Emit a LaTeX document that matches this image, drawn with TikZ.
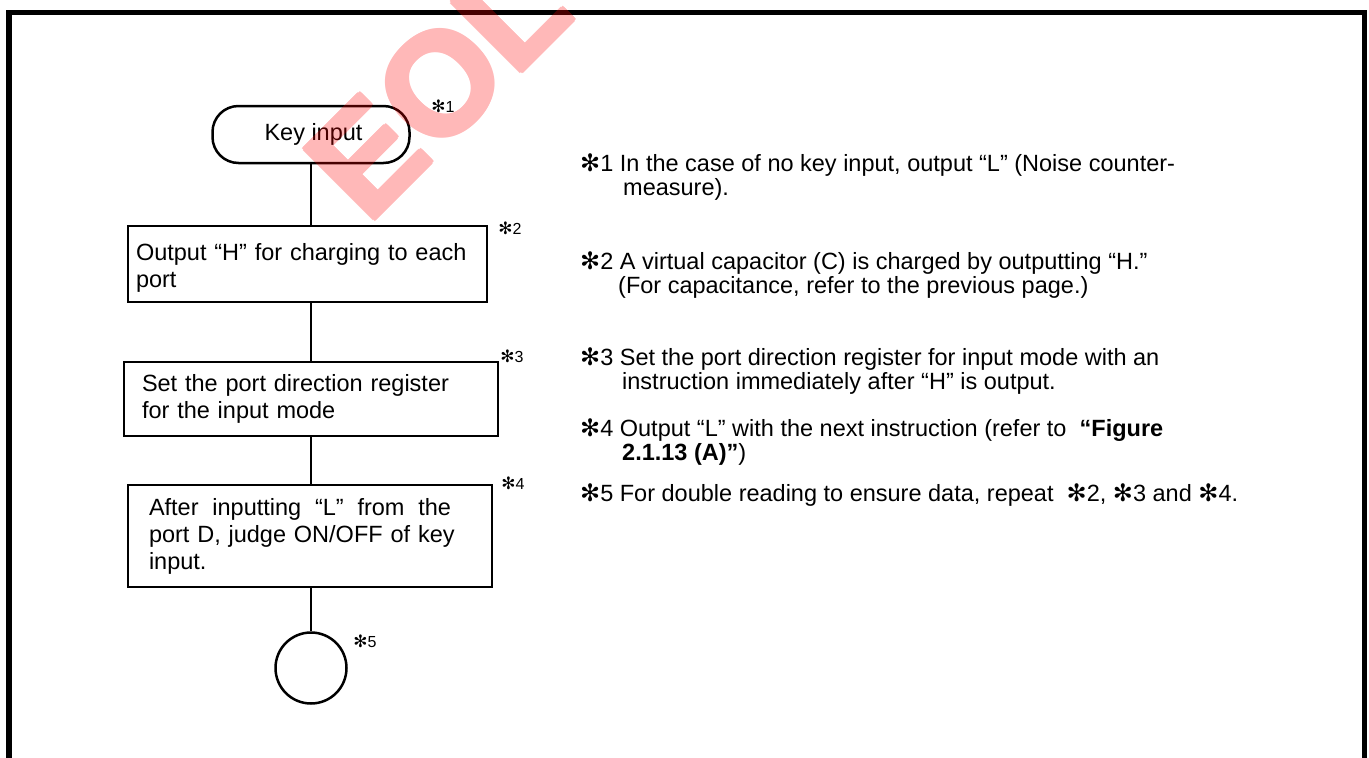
\documentclass[tikz,border=0pt]{standalone}
\usepackage{fontspec}
\setmainfont{Liberation Sans}
\newfontfamily\djv{DejaVu Sans}
\newcommand\stm[1]{{\djv\fontsize{#1}{#1}\selectfont ✻}}
\newcommand\fullline[1]{\leavevmode\hbox to 302pt{#1}}
\tikzset{
  flowbox/.style={draw, line width=2.8pt, rectangle, inner sep=0pt, align=left,
    font=\fontsize{23.5}{27}\selectfont},
  termbox/.style={draw, rounded corners=26pt, line width=2.5pt, inner sep=0pt,
    minimum width=197pt, minimum height=57pt, font=\fontsize{23.5}{27}\selectfont},
  endbox/.style={draw, circle, line width=2.5pt, minimum size=71pt, inner sep=0pt},
  conn/.style={line width=2.6pt},
  note/.style={anchor=base west, inner sep=0pt, align=left,
    font=\fontsize{23.5}{23.5}\selectfont},
  starlab/.style={inner sep=0pt, font=\fontsize{16}{16}\selectfont},
  frame/.style={line width=5.5pt},
  wmtext/.style={rotate=45, anchor=base west, inner sep=0pt, text=red,
    font=\bfseries\fontsize{144}{144}\selectfont}
}
\begin{document}
\begin{tikzpicture}[x=1pt,y=-1pt]
\path[use as bounding box] (0,0) rectangle (1369,758);
\clip (0,0) rectangle (1369,758);
\fill[white] (0,0) rectangle (1369,758);
% frame
\draw[frame] (9,800) -- (9,12.5) -- (1364.5,12.5) -- (1364.5,800);

% flowchart
\node[termbox] (key) at (311,134.5) {\hspace*{5pt}Key input};
\node[flowbox, minimum width=359pt, minimum height=76pt, text width=343pt] (b2) at (307.5,264)
  {\rule{0pt}{25pt}Output “H” for charging to each\\port};
\node[flowbox, minimum width=374pt, minimum height=74pt, text width=338pt] (b3) at (311,399)
  {Set the port direction register\\for the input mode};
\node[flowbox, minimum width=364pt, minimum height=102pt, text width=322pt] (b4) at (310,536)
  {\fullline{After\hfill inputting\hfill “L”\hfill from\hfill the}\\
   \fullline{port D, judge ON/OFF of key}\\
   input.};
\node[endbox] (end) at (311,668) {};

\draw[conn] (key.south) -- (key.south |- b2.north);
\draw[conn] (key.south |- b2.south) -- (key.south |- b3.north);
\draw[conn] (key.south |- b3.south) -- (key.south |- b4.north);
\draw[conn] (key.south |- b4.south) -- (end.north);

\node[starlab] (s1) at (443,106) {\stm{17}1};
\node[starlab] (s2) at (510,228) {\stm{17}2};
\node[starlab] (s3) at (512,356) {\stm{17}3};
\node[starlab] (s4) at (513,483) {\stm{17}4};
\node[starlab] (s5) at (365,641) {\stm{17}5};

% notes (base = baseline of last line)
\node[note] (n1) at (580,195) {\stm{24}1 In the case of no key input, output “L” (Noise counter-\\\hspace*{43pt}measure).};
\node[note] (n2) at (580,293) {\stm{24}2 A virtual capacitor (C) is charged by outputting “H.”\\\hspace*{38pt}(For capacitance, refer to the previous page.)};
\node[note] (n3) at (580,389) {\stm{24}3 Set the port direction register for input mode with an\\\hspace*{42pt}instruction immediately after “H” is output.};
\node[note] (n4) at (580,460) {\stm{24}4 Output “L” with the next instruction (refer to \ \textbf{“Figure}\\\hspace*{42pt}\textbf{2.1.13 (A)”})};
\node[note] (n5) at (580,501) {\stm{24}5 For double reading to ensure data, repeat \ \stm{24}2, \stm{24}3 and \stm{24}4.};

% watermark
\begin{scope}[transparency group, opacity=0.28]
  \foreach \dx/\dy [count=\i] in {0/0, 2.2/0, -2.2/0, 0/2.2, 0/-2.2, 1.6/1.6, -1.6/-1.6, 1.6/-1.6, -1.6/1.6}
    \node[wmtext] (wm\i) at (368+\dx,226+\dy) {EOL};
\end{scope}
\end{tikzpicture}
\end{document}
